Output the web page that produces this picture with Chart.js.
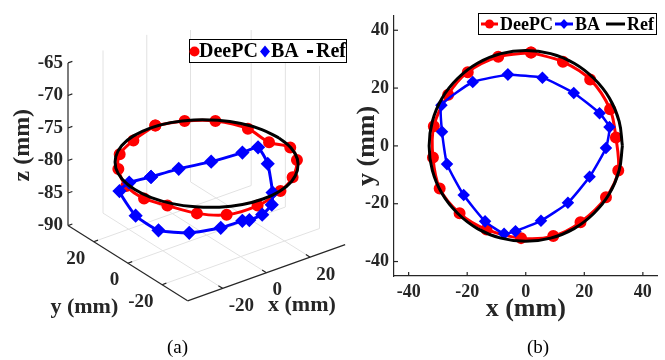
<!DOCTYPE html>
<html>
<head>
<meta charset="utf-8">
<script src="https://cdn.jsdelivr.net/npm/chart.js@4/dist/chart.umd.min.js"></script>
<style>
  body { margin: 0; background: #fff; }
  #wrap { position: relative; width: 665px; height: 360px; }
  canvas { position: absolute; top: 0; }
  #ca { left: 0; }
  #cb { left: 330px; }
  .cap { position: absolute; top: 336px; font: 19px "Liberation Serif", serif; color: #000; }
</style>
</head>
<body>
<div id="wrap">
  <canvas id="ca" width="360" height="360"></canvas>
  <canvas id="cb" width="335" height="360"></canvas>
  <div class="cap" style="left:167px">(a)</div>
  <div class="cap" style="left:527px">(b)</div>
</div>
<script>
// trajectories, mm (x/y, z)
const deepcX = [1.8, 12.7, 22.0, 28.8, 30.8, 31.6, 27.4, 18.7, 9.4, -1.6, -13.4, -22.6, -29.4, -31.7, -31.4, -26.5, -19.8, -9.4, 1.8];
const deepcY = [32.3, 29.1, 23.0, 12.7, 2.9, -8.5, -17.8, -26.4, -31.2, -31.9, -28.9, -23.3, -14.7, -4.0, 6.8, 17.7, 25.5, 30.8, 32.3];
const deepcZ = [-78.7, -78.8, -78.9, -79.2, -79.9, -78.9, -78.8, -79.0, -79.2, -80.0, -80.5, -80.1, -79.5, -79.9, -79.8, -79.6, -79.4, -79.4, -78.7];

const baX = [-6.1, 5.7, 16.4, 25.2, 28.6, 27.4, 21.8, 14.4, 5.2, -3.5, -7.4, -13.9, -21.2, -26.9, -28.6, -28.8, -18.1, -6.1];
const baY = [24.7, 23.6, 18.3, 11.3, 6.5, -0.7, -10.7, -19.7, -25.9, -29.5, -30.4, -26.1, -17.0, -6.3, 4.9, 14.1, 22.1, 24.7];
const baZ = [-84.4, -84.4, -83.7, -82.2, -81.0, -82.2, -84.3, -83.8, -83.2, -82.4, -81.9, -82.9, -84.3, -85.0, -84.4, -82.1, -83.4, -84.4];

// reference circle, r = 33 mm
const refX = [33, 31.9, 28.6, 23.3, 16.5, 8.5, 0, -8.5, -16.5, -23.3, -28.6, -31.9, -33, -31.9, -28.6, -23.3, -16.5, -8.5, 0, 8.5, 16.5, 23.3, 28.6, 31.9, 33];
const refY = [0, 8.5, 16.5, 23.3, 28.6, 31.9, 33, 31.9, 28.6, 23.3, 16.5, 8.5, 0, -8.5, -16.5, -23.3, -28.6, -31.9, -33, -31.9, -28.6, -23.3, -16.5, -8.5, 0];
const refZ = -79;

// tick labels
const xyTicks2d = [-40, -20, 0, 20, 40];
const xyTicks3d = [-20, 0, 20];
const zTicks = [-90, -85, -80, -75, -70, -65];

const SERIF = '"Liberation Serif", "Times New Roman", serif';
const AXIS = '#262626';

// ---------- panel (a): 3D view ----------
const BOX = { xmin: -36, xmax: 36, ymin: -35, ymax: 35, zmin: -90, zmax: -65 };
const ZPX = 6.92;               // px per z unit
const VIEW = { kxu: 0.3251, kyu: -0.2539, kxv: 0.1199, kyv: 0.1652 };

function proj(x, y, z) {
    return {
        x: (x - BOX.xmin) * VIEW.kxu + (y - BOX.ymax) * VIEW.kyu,
        y: z + (x - BOX.xmin) * VIEW.kxv + (y - BOX.ymax) * VIEW.kyv
    };
}
const pts3 = (xs, ys, zs) => xs.map((x, i) => proj(x, ys[i], Array.isArray(zs) ? zs[i] : zs));
const pts2 = (xs, ys) => xs.map((x, i) => ({ x: x, y: ys[i] }));

const box3d = {
    id: 'box3d',
    beforeDatasetsDraw(chart) {
        const ctx = chart.ctx, sx = chart.scales.x, sy = chart.scales.y;
        const P = (x, y, z) => { const p = proj(x, y, z); return [sx.getPixelForValue(p.x), sy.getPixelForValue(p.y)]; };
        const seg = (a, b) => { ctx.beginPath(); ctx.moveTo(a[0], a[1]); ctx.lineTo(b[0], b[1]); ctx.stroke(); };
        const { xmin, xmax, ymin, ymax, zmin, zmax } = BOX;

        // grid on floor and back walls
        ctx.save();
        ctx.beginPath(); ctx.rect(0, 30, chart.width, chart.height - 30); ctx.clip();
        ctx.strokeStyle = '#e2e2e2'; ctx.lineWidth = 1;
        xyTicks3d.forEach(v => {
            seg(P(v, ymin, zmin), P(v, ymax, zmin));
            seg(P(xmin, v, zmin), P(xmax, v, zmin));
            seg(P(v, ymax, zmin), P(v, ymax, zmax));
            seg(P(xmax, v, zmin), P(xmax, v, zmax));
        });
        ctx.restore();

        // axis lines and ticks
        ctx.save();
        ctx.strokeStyle = AXIS; ctx.lineWidth = 1.2;
        seg(P(xmin, ymax, zmin), P(xmin, ymax, zmax));
        seg(P(xmin, ymax, zmin), P(xmin, ymin, zmin));
        seg(P(xmin, ymin, zmin), P(xmax, ymin, zmin));
        zTicks.forEach(z => seg(P(xmin, ymax, z), P(xmin + 2, ymax, z)));
        xyTicks3d.forEach(v => {
            seg(P(xmin, v, zmin), P(xmin + 2, v, zmin));
            seg(P(v, ymin, zmin), P(v, ymin + 2.5, zmin));
        });

        ctx.fillStyle = AXIS;
        ctx.font = 'bold 19px ' + SERIF;
        ctx.textBaseline = 'middle';
        ctx.textAlign = 'right';
        xyTicks3d.forEach(v => { const t = P(xmin, v, zmin); ctx.fillText(String(v), t[0] - 8.5, t[1] + 17); });
        ctx.textAlign = 'left';
        xyTicks3d.forEach(v => { const t = P(v, ymin, zmin); ctx.fillText(String(v), t[0] + 6, t[1] + 17.5); });

        ctx.font = 'bold 22px ' + SERIF;
        ctx.textAlign = 'center';
        const ya = P(xmin, ymax, zmin), yb = P(xmin, ymin, zmin), xb = P(xmax, ymin, zmin);
        ctx.fillText('y (mm)', (ya[0] + yb[0]) / 2 - 43.5, (ya[1] + yb[1]) / 2 + 44);
        ctx.fillText('x (mm)', (yb[0] + xb[0]) / 2 + 35.5, (yb[1] + xb[1]) / 2 + 33);
        ctx.restore();
    },
    afterDraw(chart) {
        const ctx = chart.ctx;
        ctx.save();
        ctx.fillStyle = '#fff'; ctx.fillRect(189, 39, 158, 24);
        ctx.strokeStyle = '#000'; ctx.lineWidth = 1; ctx.strokeRect(189.5, 39.5, 157, 23);
        ctx.fillStyle = 'rgb(255,0,0)';
        ctx.beginPath(); ctx.arc(194.5, 51.5, 5, 0, Math.PI * 2); ctx.fill();
        ctx.fillStyle = 'rgb(0,0,255)';
        ctx.beginPath(); ctx.moveTo(265, 45.5); ctx.lineTo(270, 51.5); ctx.lineTo(265, 57.5); ctx.lineTo(260, 51.5); ctx.closePath(); ctx.fill();
        ctx.fillStyle = '#000'; ctx.fillRect(307, 50, 6, 3);
        ctx.font = 'bold 20px ' + SERIF; ctx.textBaseline = 'middle'; ctx.textAlign = 'left';
        ctx.fillText('DeePC', 199, 52);
        ctx.fillText('BA', 271, 52);
        ctx.fillText('Ref', 316, 52);
        ctx.restore();
    }
};

new Chart(document.getElementById('ca'), {
    type: 'scatter',
    data: {
        datasets: [
            { label: 'DeePC', data: pts3(deepcX, deepcY, deepcZ), showLine: true, tension: 0.3,
              borderColor: 'rgb(255,0,0)', backgroundColor: 'rgb(255,0,0)', borderWidth: 3,
              pointStyle: 'circle', pointRadius: 4.5, order: 2 },
            { label: 'BA', data: pts3(baX, baY, baZ), showLine: true, tension: 0.15,
              borderColor: 'rgb(0,0,255)', backgroundColor: 'rgb(0,0,255)', borderWidth: 3,
              pointStyle: 'rectRot', pointRadius: 5, order: 1 },
            { label: 'Ref', data: pts3(refX, refY, refZ), showLine: true, tension: 0.4,
              borderColor: '#000', borderWidth: 3, pointRadius: 0, order: 0 }
        ]
    },
    options: {
        responsive: false,
        animation: false,
        layout: { padding: { top: 0, right: 0, left: 0, bottom: 86 } },
        plugins: { legend: { display: false }, tooltip: { enabled: false } },
        scales: {
            x: { type: 'linear', display: false, min: 0, max: 292 / ZPX },
            y: {
                type: 'linear',
                min: -90 - 51.5 / ZPX,
                max: -65 + 49.5 / ZPX,
                afterBuildTicks: s => { s.ticks = zTicks.map(v => ({ value: v })); },
                afterFit: s => { s.width = 68; },
                grid: { display: false, drawTicks: false },
                border: { display: false },
                ticks: { color: AXIS, padding: 5, font: { family: SERIF, size: 19, weight: 'bold' } },
                title: { display: true, text: 'z (mm)', color: AXIS, padding: { top: 8, bottom: 0 },
                         font: { family: SERIF, size: 24, weight: 'bold' } }
            }
        }
    },
    plugins: [box3d]
});

// ---------- panel (b): x-y view ----------
const decorB = {
    id: 'decorB',
    afterDraw(chart) {
        const ctx = chart.ctx, a = chart.chartArea, sx = chart.scales.x, sy = chart.scales.y;
        ctx.save();
        ctx.strokeStyle = AXIS; ctx.lineWidth = 1.2;
        xyTicks2d.forEach(v => {
            const px = sx.getPixelForValue(v), py = sy.getPixelForValue(v);
            ctx.beginPath(); ctx.moveTo(px, a.bottom); ctx.lineTo(px, a.bottom - 4); ctx.stroke();
            ctx.beginPath(); ctx.moveTo(a.left, py); ctx.lineTo(a.left + 4, py); ctx.stroke();
        });

        // legend
        const L = 148, T = 13, W = 179, H = 22, cy = T + H / 2;
        ctx.fillStyle = '#fff'; ctx.fillRect(L, T, W, H);
        ctx.strokeStyle = '#000'; ctx.lineWidth = 1; ctx.strokeRect(L + 0.5, T + 0.5, W - 1, H - 1);
        ctx.lineWidth = 3;
        ctx.strokeStyle = 'rgb(255,0,0)'; ctx.fillStyle = 'rgb(255,0,0)';
        ctx.beginPath(); ctx.moveTo(151, cy); ctx.lineTo(168, cy); ctx.stroke();
        ctx.beginPath(); ctx.arc(159.5, cy, 4.5, 0, Math.PI * 2); ctx.fill();
        ctx.strokeStyle = 'rgb(0,0,255)'; ctx.fillStyle = 'rgb(0,0,255)';
        ctx.beginPath(); ctx.moveTo(225, cy); ctx.lineTo(243, cy); ctx.stroke();
        ctx.beginPath(); ctx.moveTo(234, cy - 5); ctx.lineTo(238.5, cy); ctx.lineTo(234, cy + 5); ctx.lineTo(229.5, cy); ctx.closePath(); ctx.fill();
        ctx.strokeStyle = '#000';
        ctx.beginPath(); ctx.moveTo(276, cy); ctx.lineTo(295, cy); ctx.stroke();
        ctx.fillStyle = '#000';
        ctx.font = 'bold 18px ' + SERIF; ctx.textBaseline = 'middle'; ctx.textAlign = 'left';
        ctx.fillText('DeePC', 170, cy + 1);
        ctx.fillText('BA', 245, cy + 1);
        ctx.fillText('Ref', 297, cy + 1);
        ctx.restore();
    }
};

const axisB = (w, h, titleText, titlePad, tickPad) => ({
    type: 'linear', min: -45, max: 45,
    afterBuildTicks: s => { s.ticks = xyTicks2d.map(v => ({ value: v })); },
    afterFit: s => { if (w) s.width = w; if (h) s.height = h; },
    grid: { display: false, drawTicks: false },
    border: { color: AXIS, width: 1.2 },
    ticks: { color: AXIS, padding: tickPad, maxRotation: 0, font: { family: SERIF, size: 18, weight: 'bold' } },
    title: { display: true, text: titleText, color: AXIS, padding: titlePad,
             font: { family: SERIF, size: 26, weight: 'bold' } }
});

new Chart(document.getElementById('cb'), {
    type: 'scatter',
    data: {
        datasets: [
            { label: 'DeePC', data: pts2(deepcX, deepcY), showLine: true, tension: 0.3,
              borderColor: 'rgb(255,0,0)', backgroundColor: 'rgb(255,0,0)', borderWidth: 3,
              pointStyle: 'circle', pointRadius: 4.5, order: 2 },
            { label: 'BA', data: pts2(baX, baY), showLine: true, tension: 0.15,
              borderColor: 'rgb(0,0,255)', backgroundColor: 'rgb(0,0,255)', borderWidth: 2.5,
              pointStyle: 'rectRot', pointRadius: 4.5, order: 1 },
            { label: 'Ref', data: pts2(refX, refY), showLine: true, tension: 0.4,
              borderColor: '#000', borderWidth: 3, pointRadius: 0, order: 0 }
        ]
    },
    options: {
        responsive: false,
        animation: false,
        layout: { padding: { top: 8, right: 4, left: 0, bottom: 0 } },
        plugins: { legend: { display: false }, tooltip: { enabled: false } },
        scales: {
            x: axisB(0, 84, 'x (mm)', { top: 0, bottom: 35 }, 6),
            y: axisB(64, 0, 'y (mm)', { top: 22, bottom: 0 }, 5)
        }
    },
    plugins: [decorB]
});
</script>
</body>
</html>
